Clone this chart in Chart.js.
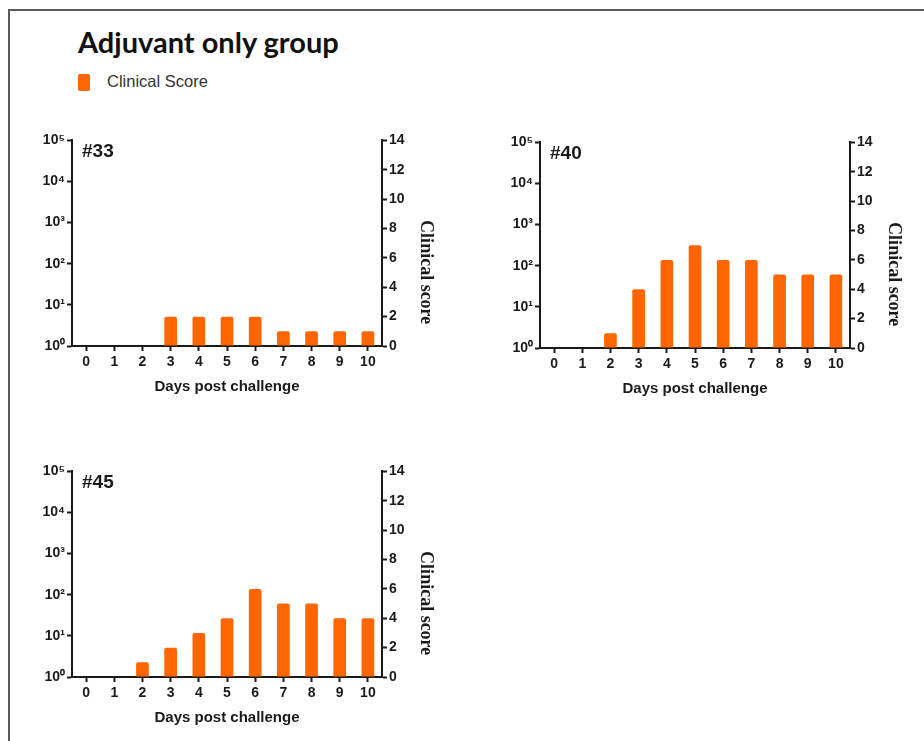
<!DOCTYPE html>
<html>
<head>
<meta charset="utf-8">
<script src="https://cdn.jsdelivr.net/npm/chart.js@4.4.1/dist/chart.umd.min.js"></script>
<style>
  body { margin: 0; background: #fff; width: 924px; height: 741px; overflow: hidden; position: relative; }
  .frame { position: absolute; left: 8px; top: 9px; width: 1000px; height: 1000px; border-top: 2px solid #5a5a5a; border-left: 2px solid #5a5a5a; }
  .title { position: absolute; left: 78px; top: 24px; font: 700 29px Lato, sans-serif; color: #111; }
  .legend { position: absolute; left: 78px; top: 72px; font: 16.5px "Liberation Sans", Arial, sans-serif; color: #333; }
  .legend span { display: inline-block; width: 12px; height: 17px; background: #ff6600; border-radius: 2px; vertical-align: middle; margin-right: 17px; }
  canvas { position: absolute; }
</style>
</head>
<body>
<div class="frame"></div>
<div class="title">Adjuvant only group</div>
<div class="legend"><span></span>Clinical Score</div>
<canvas id="c33" width="450" height="274" style="left:20px;top:130px"></canvas>
<canvas id="c40" width="450" height="274" style="left:488px;top:132px"></canvas>
<canvas id="c45" width="450" height="274" style="left:20px;top:461px"></canvas>
<script>
const days = ['0', '1', '2', '3', '4', '5', '6', '7', '8', '9', '10'];
const score33 = [0, 0, 0, 2, 2, 2, 2, 1, 1, 1, 1];
const score40 = [0, 0, 1, 4, 6, 7, 6, 6, 5, 5, 5];
const score45 = [0, 0, 1, 2, 3, 4, 6, 5, 5, 4, 4];
const logTicks = [1, 10, 100, 1000, 10000, 100000];
const sup = ['⁰', '¹', '²', '³', '⁴', '⁵'];

const ORANGE = '#ff6600';
const INK = '#1a1a1a';
const tickFont = { family: '"Liberation Sans", Arial, sans-serif', size: 14, weight: 'bold' };

const overlay = {
    id: 'overlay',
    afterDraw(chart, args, opts) {
        const ctx = chart.ctx;
        const a = chart.chartArea;
        ctx.save();
        ctx.fillStyle = INK;
        ctx.font = 'bold 19px "Liberation Sans", Arial, sans-serif';
        ctx.textBaseline = 'middle';
        ctx.fillText(opts.label, a.left + 10, a.top + 11);
        // right axis title, reads top to bottom
        ctx.translate(a.right + 44, (a.top + a.bottom) / 2 + 29);
        ctx.rotate(Math.PI / 2);
        ctx.font = 'bold 18px "Liberation Serif", "Times New Roman", serif';
        ctx.textAlign = 'center';
        ctx.fillText('Clinical score', 0, 0);
        ctx.restore();
    }
};

function makeChart(id, label, values) {
    new Chart(document.getElementById(id), {
        type: 'bar',
        data: {
            labels: days,
            datasets: [{
                label: 'Clinical Score',
                data: values,
                yAxisID: 'y1',
                backgroundColor: ORANGE,
                borderRadius: 2,
                borderSkipped: 'start',
                categoryPercentage: 1,
                barPercentage: 0.45
            }]
        },
        options: {
            responsive: false,
            animation: false,
            layout: { padding: { top: 10, left: 0, right: 0, bottom: 0 } },
            plugins: { legend: { display: false }, tooltip: { enabled: false }, overlay: { label } },
            scales: {
                x: {
                    offset: true,
                    grid: { offset: false, drawOnChartArea: false, tickLength: 5, tickColor: INK, tickWidth: 2 },
                    border: { color: INK, width: 2 },
                    ticks: { color: INK, font: tickFont, padding: 3, maxRotation: 0 },
                    title: { display: true, text: 'Days post challenge', color: INK, padding: 8,
                             font: { family: '"Liberation Sans", Arial, sans-serif', size: 15, weight: 'bold' } },
                    afterFit: s => { s.height = 58; }
                },
                y: {
                    type: 'logarithmic',
                    position: 'left',
                    min: 1,
                    max: 100000,
                    afterBuildTicks: s => { s.ticks = logTicks.map(v => ({ value: v })); },
                    grid: { drawOnChartArea: false, tickLength: 5, tickColor: INK, tickWidth: 2 },
                    border: { color: INK, width: 2 },
                    ticks: { color: INK, font: tickFont, padding: 2,
                             callback: v => '10' + sup[Math.round(Math.log10(v))] },
                    afterFit: s => { s.width = 52; }
                },
                y1: {
                    type: 'linear',
                    position: 'right',
                    min: 0,
                    max: 14,
                    grid: { drawOnChartArea: false, tickLength: 5, tickColor: INK, tickWidth: 2 },
                    border: { color: INK, width: 2 },
                    ticks: { stepSize: 2, color: INK, font: tickFont, padding: 2 },
                    afterFit: s => { s.width = 88; }
                }
            }
        },
        plugins: [overlay]
    });
}

makeChart('c33', '#33', score33);
makeChart('c40', '#40', score40);
makeChart('c45', '#45', score45);
</script>
</body>
</html>
